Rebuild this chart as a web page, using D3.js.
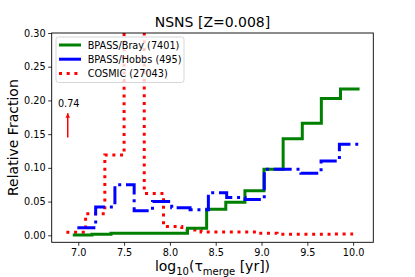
<!DOCTYPE html>
<html>
<head>
<meta charset="utf-8">
<script src="https://cdn.jsdelivr.net/npm/d3@7"></script>
<style>
body { margin: 0; background: #fff; }
text { font-family: "DejaVu Sans", sans-serif; fill: #000; }
</style>
</head>
<body>
<script>
// step histogram data
var brayEdges = [6.94, 7.149, 7.357, 7.566, 7.775, 7.984, 8.192, 8.401, 8.61, 8.819, 9.027, 9.236, 9.445, 9.653, 9.862, 10.07];
var brayValues = [0.0005, 0.0015, 0.003, 0.003, 0.003, 0.003, 0.0104, 0.0386, 0.049, 0.066, 0.098, 0.143, 0.166, 0.203, 0.217];

var hobbsEdges = [6.99, 7.19, 7.40, 7.61, 7.81, 8.02, 8.22, 8.42, 8.62, 8.82, 9.03, 9.23, 9.43, 9.65, 9.85, 10.07];
var hobbsValues = [0.011, 0.042, 0.075, 0.0365, 0.05, 0.041, 0.038, 0.063, 0.056, 0.053, 0.098, 0.098, 0.092, 0.110, 0.135];

var cosmicEdges = [6.87, 7.08, 7.29, 7.50, 7.72, 7.93, 8.13, 8.34, 8.55, 8.76, 8.96, 9.17, 9.38, 9.58, 9.79, 10.0];
var cosmicValues = [0.0045, 0.032, 0.119, 0.74, 0.062, 0.013, 0.008, 0.005, 0.005, 0.005, 0.003, 0.0015, 0.0015, 0.0015, 0.002];

var seriesNames = ["BPASS/Bray (7401)", "BPASS/Hobbs (495)", "COSMIC (27043)"];
var xTicks = [7.0, 7.5, 8.0, 8.5, 9.0, 9.5, 10.0];
var yTicks = [0.00, 0.05, 0.10, 0.15, 0.20, 0.25, 0.30];

// the peak that runs off the top
var peakLabel = "0.74";
var peakX = 6.885;
var peakArrow = [0.145, 0.181];
var peakTextY = 0.19;

var w = 415;
var h = 277;
var padL = 51.7, padR = 373.3, padT = 33, padB = 242.3;

var svg = d3.select("body")
	.append("svg")
	.attr("width", w)
	.attr("height", h);

var x_scale = d3.scaleLinear()
	.domain([6.71, 10.22])
	.range([padL, padR]);

var y_scale = d3.scaleLinear()
	.domain([-0.0104, 0.30])
	.range([padB, padT]);

svg.append("clipPath")
	.attr("id", "plotclip")
	.append("rect")
	.attr("x", padL)
	.attr("y", padT)
	.attr("width", padR - padL)
	.attr("height", padB - padT);

function stepPoints(edges, vals)
{
	var pts = vals.map(function(v, i) { return [edges[i], v]; });
	pts.push([edges[edges.length - 1], vals[vals.length - 1]]);
	return pts;
}

var line = d3.line()
	.x(function(d) { return x_scale(d[0]); })
	.y(function(d) { return y_scale(d[1]); })
	.curve(d3.curveStepAfter);

var plotArea = svg.append("g").attr("clip-path", "url(#plotclip)");

plotArea.append("path")
	.attr("d", line(stepPoints(cosmicEdges, cosmicValues)))
	.attr("fill", "none")
	.attr("stroke", "red")
	.attr("stroke-width", 3)
	.attr("stroke-dasharray", "3,4.7");

plotArea.append("path")
	.attr("d", line(stepPoints(brayEdges, brayValues)))
	.attr("fill", "none")
	.attr("stroke", "green")
	.attr("stroke-width", 3);

plotArea.append("path")
	.attr("d", line(stepPoints(hobbsEdges, hobbsValues)))
	.attr("fill", "none")
	.attr("stroke", "blue")
	.attr("stroke-width", 3)
	.attr("stroke-dasharray", "18,4.8,3,4.8");

// axes
var x_axis = d3.axisBottom(x_scale)
	.tickValues(xTicks)
	.tickFormat(d3.format(".1f"))
	.tickSize(3.5)
	.tickPadding(3.5);

var y_axis = d3.axisLeft(y_scale)
	.tickValues(yTicks)
	.tickFormat(d3.format(".2f"))
	.tickSize(3.5)
	.tickPadding(2.5);

var gx = svg.append("g")
	.attr("transform", "translate(0," + padB + ")")
	.call(x_axis);
var gy = svg.append("g")
	.attr("transform", "translate(" + padL + ",0)")
	.call(y_axis);

[gx, gy].forEach(function(g)
{
	g.select(".domain").remove();
	g.selectAll("text").style("font-size", "9.7px").attr("fill", "#000");
	g.selectAll("line").attr("stroke", "#000").attr("stroke-width", 0.8);
});

svg.append("rect")
	.attr("x", padL)
	.attr("y", padT)
	.attr("width", padR - padL)
	.attr("height", padB - padT)
	.attr("fill", "none")
	.attr("stroke", "#000")
	.attr("stroke-width", 0.9);

// arrow for the clipped peak
svg.append("defs").append("marker")
	.attr("id", "head")
	.attr("viewBox", "0 0 10 10")
	.attr("refX", 10)
	.attr("refY", 5)
	.attr("markerWidth", 3)
	.attr("markerHeight", 3)
	.attr("orient", "auto")
	.append("path")
	.attr("d", "M0,0 L10,5 L0,10 z")
	.attr("fill", "red");

svg.append("line")
	.attr("x1", x_scale(peakX))
	.attr("x2", x_scale(peakX))
	.attr("y1", y_scale(peakArrow[0]))
	.attr("y2", y_scale(peakArrow[1]))
	.attr("stroke", "red")
	.attr("stroke-width", 1.5)
	.attr("marker-end", "url(#head)");

svg.append("text")
	.attr("x", x_scale(peakX) + 1)
	.attr("y", y_scale(peakTextY))
	.attr("text-anchor", "middle")
	.style("font-size", "9.7px")
	.text(peakLabel);

// legend
var legend = svg.append("g");
legend.append("rect")
	.attr("x", 56)
	.attr("y", 37)
	.attr("width", 128)
	.attr("height", 45.5)
	.attr("rx", 2.5)
	.attr("fill", "#fff")
	.attr("fill-opacity", 0.8)
	.attr("stroke", "#ccc")
	.attr("stroke-width", 0.8);

var legColors = ["green", "blue", "red"];
var legDash = [null, null, "3,4.7"];
seriesNames.forEach(function(name, i)
{
	var yy = 45 + i * 14.2;
	legend.append("line")
		.attr("x1", 59)
		.attr("x2", 81)
		.attr("y1", yy)
		.attr("y2", yy)
		.attr("stroke", legColors[i])
		.attr("stroke-width", 3)
		.attr("stroke-dasharray", legDash[i]);
	legend.append("text")
		.attr("x", 87.7)
		.attr("y", yy + 3.5)
		.style("font-size", "9.7px")
		.text(name);
});

// title and labels
svg.append("text")
	.attr("x", (padL + padR) / 2)
	.attr("y", 26.7)
	.attr("text-anchor", "middle")
	.style("font-size", "14px")
	.text("NSNS [Z=0.008]");

svg.append("text")
	.attr("transform", "translate(17.5," + ((padT + padB) / 2) + ") rotate(-90)")
	.attr("text-anchor", "middle")
	.style("font-size", "14px")
	.text("Relative Fraction");

var xl = svg.append("text")
	.attr("x", (padL + padR) / 2)
	.attr("y", 271)
	.attr("text-anchor", "middle")
	.style("font-size", "14px");
xl.append("tspan").text("log");
xl.append("tspan").attr("dy", 3.5).style("font-size", "10px").text("10");
xl.append("tspan").attr("dy", -3.5).text("(\u03c4");
xl.append("tspan").attr("dy", 3.5).style("font-size", "10px").text("merge");
xl.append("tspan").attr("dy", -3.5).text(" [yr])");
</script>
</body>
</html>
